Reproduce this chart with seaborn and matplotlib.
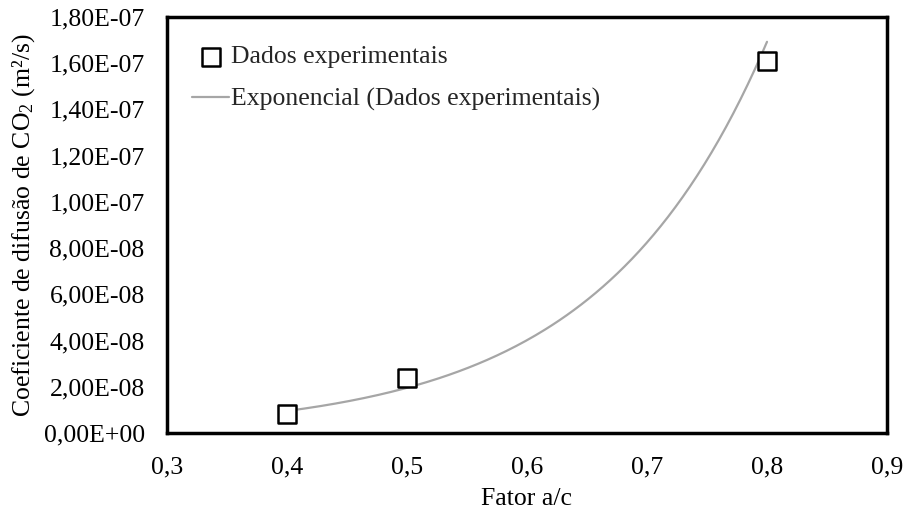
import numpy as np
import pandas as pd
import matplotlib
matplotlib.use("Agg")
import matplotlib.pyplot as plt
from matplotlib.ticker import FuncFormatter
import seaborn as sns

# Data
fator_ac = [0.4, 0.5, 0.8]
difusao = [0.82e-8, 2.39e-8, 1.61e-7]
x_ticks = [0.3, 0.4, 0.5, 0.6, 0.7, 0.8, 0.9]
y_ticks = [0, 2e-8, 4e-8, 6e-8, 8e-8, 1e-7, 1.2e-7, 1.4e-7, 1.6e-7, 1.8e-7]

sns.set_theme(style="white")
plt.rcParams['font.family'] = ['Liberation Serif', 'DejaVu Serif']
plt.rcParams['mathtext.fontset'] = 'custom'
plt.rcParams['mathtext.rm'] = 'Liberation Serif'
plt.rcParams['mathtext.it'] = 'Liberation Serif:italic'

df = pd.DataFrame({"x": fator_ac, "y": difusao})

# Exponential trendline (least-squares fit of ln y, as in Excel)
b, ln_a = np.polyfit(df["x"], np.log(df["y"]), 1)
xs = np.linspace(min(fator_ac), max(fator_ac), 200)
trend = pd.DataFrame({"x": xs, "y": np.exp(ln_a) * np.exp(b * xs)})

fig = plt.figure(figsize=(9.04, 5.12), dpi=100)
ax = fig.add_axes([0.1847, 0.1543, 0.7965, 0.8125])

sns.lineplot(data=trend, x="x", y="y", ax=ax, color="#A6A6A6", linewidth=1.6,
             label="Exponencial (Dados experimentais)", zorder=2)
sns.scatterplot(data=df, x="x", y="y", ax=ax, marker="s", s=150,
                facecolor="white", edgecolor="black", linewidth=1.8,
                label="Dados experimentais", zorder=3)

ax.set_xlim(0.3, 0.9)
ax.set_ylim(0, 1.8e-7)
ax.set_xticks(x_ticks)
ax.set_yticks(y_ticks)
ax.xaxis.set_major_formatter(FuncFormatter(lambda v, p: f"{v:.1f}".replace('.', ',')))
ax.yaxis.set_major_formatter(FuncFormatter(lambda v, p: f"{v:.2E}".replace('.', ',')))
ax.tick_params(axis='both', length=0, labelsize=18.5, colors='black')
ax.tick_params(axis='y', pad=16)
ax.tick_params(axis='x', pad=17)

for s in ax.spines.values():
    s.set_visible(True)
    s.set_color('black')
    s.set_linewidth(2.5)

ax.set_xlabel("Fator a/c", fontsize=18.5, labelpad=7, color='black')
ax.set_ylabel("Coeficiente de difusão de CO$_2$ (m²/s)", fontsize=18.5, labelpad=5, color='black')

handles, labels = ax.get_legend_handles_labels()
order = [labels.index("Dados experimentais"), labels.index("Exponencial (Dados experimentais)")]
ax.legend([handles[i] for i in order], [labels[i] for i in order],
          loc="upper left", bbox_to_anchor=(0.01, 0.975), frameon=False,
          fontsize=18.5, handlelength=1.45, handletextpad=0.05, labelspacing=0.75,
          borderaxespad=0.3)

fig.savefig("out.png", dpi=100)
